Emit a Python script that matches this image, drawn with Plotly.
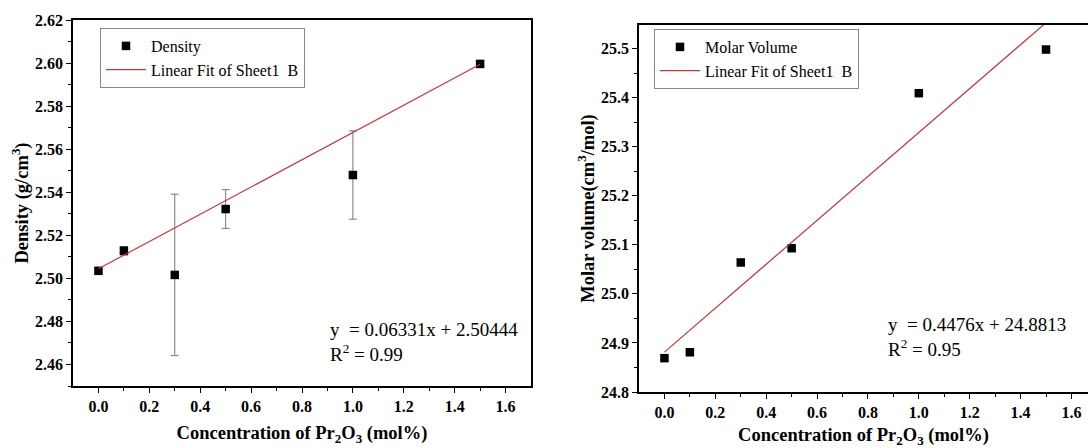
import plotly.graph_objects as go

# ---- data ----
conc = [0.0, 0.1, 0.3, 0.5, 1.0, 1.5]
density = [2.5035, 2.5128, 2.5016, 2.5322, 2.5480, 2.5996]
density_err = [0.0010, 0.0020, 0.0375, 0.0090, 0.0205, 0.0005]
molar_volume = [24.869, 24.881, 25.064, 25.093, 25.409, 25.498]
fit_x = [0.0, 1.5]
dens_slope, dens_icpt = 0.06331, 2.50444
mv_slope, mv_icpt = 0.4476, 24.8813
x_ticks = [0.0, 0.2, 0.4, 0.6, 0.8, 1.0, 1.2, 1.4, 1.6]
dens_ticks = [2.46, 2.48, 2.50, 2.52, 2.54, 2.56, 2.58, 2.60, 2.62]
mv_ticks = [24.8, 24.9, 25.0, 25.1, 25.2, 25.3, 25.4, 25.5]

dens_fit = [dens_slope * x + dens_icpt for x in fit_x]
mv_fit = [mv_slope * x + mv_icpt for x in fit_x]

FONT = "Liberation Serif"
RED = "#c0393b"

fig = go.Figure()
fig.add_trace(go.Scatter(
    x=conc, y=density, mode="markers", name="Density",
    marker=dict(symbol="square", size=8.5, color="black"),
    error_y=dict(type="data", array=density_err, visible=True, color="#777777", thickness=1, width=4),
    xaxis="x", yaxis="y", legend="legend"))
fig.add_trace(go.Scatter(
    x=fit_x, y=dens_fit, mode="lines", name="Linear Fit of Sheet1  B",
    line=dict(color=RED, width=1.2), xaxis="x", yaxis="y", legend="legend"))
fig.add_trace(go.Scatter(
    x=conc, y=molar_volume, mode="markers", name="Molar Volume",
    marker=dict(symbol="square", size=8.5, color="black"),
    xaxis="x2", yaxis="y2", legend="legend2"))
fig.add_trace(go.Scatter(
    x=fit_x, y=mv_fit, mode="lines", name="Linear Fit of Sheet1  B",
    line=dict(color=RED, width=1.2), xaxis="x2", yaxis="y2", legend="legend2"))

W, H = 1088, 448
def px(x): return x / W
def py(y): return 1 - y / H

def bold(vals, fmt):
    return [f"<b>{v:{fmt}}</b>" for v in vals]

TICKSIZE = 16
titlefont = dict(family=FONT, size=18.5, color="black")
common = dict(showgrid=False, zeroline=False, showline=True, linecolor="black", linewidth=1.5,
              ticks="outside", ticklen=5, tickwidth=1.2, tickcolor="black", automargin=False)
minor_x = dict(tickvals=[0.1, 0.3, 0.5, 0.7, 0.9, 1.1, 1.3, 1.5], ticks="outside", ticklen=3, tickcolor="black")

xtitle = "<b>Concentration of Pr<sub>2</sub>O<sub>3</sub> (mol%)</b>"

fig.update_layout(
    width=W, height=H, margin=dict(l=0, r=0, t=0, b=0, autoexpand=False),
    paper_bgcolor="white", plot_bgcolor="white",
    font=dict(family=FONT, size=TICKSIZE, color="black"),
    showlegend=True,
    xaxis=dict(domain=[px(73), px(531)], range=[-0.1, 1.7], tickvals=x_ticks, ticktext=bold(x_ticks, ".1f"),
               minor=minor_x, mirror=True, anchor="y",
               title=dict(text=xtitle, font=titlefont, standoff=12), **common),
    yaxis=dict(domain=[py(386), py(20)], range=[2.45, 2.62], tickvals=dens_ticks, ticktext=bold(dens_ticks, ".2f"),
               minor=dict(dtick=0.01, tick0=2.45, ticks="outside", ticklen=3, tickcolor="black"),
               mirror=True, anchor="x",
               title=dict(text="<b>Density (g/cm<sup>3</sup>)</b>", font=titlefont, standoff=2), **common),
    xaxis2=dict(domain=[px(639), 1.0], range=[-0.1, 1.665], tickvals=x_ticks, ticktext=bold(x_ticks, ".1f"),
                minor=minor_x, mirror=True, anchor="y2",
                title=dict(text=xtitle, font=titlefont, standoff=14), **common),
    yaxis2=dict(domain=[py(392), py(25)], range=[24.8, 25.548], tickvals=mv_ticks, ticktext=bold(mv_ticks, ".1f"),
                minor=dict(dtick=0.05, tick0=24.8, ticks="outside", ticklen=3, tickcolor="black"),
                anchor="x2",
                title=dict(text="<b>Molar volume(cm<sup>3</sup>/mol)</b>", font=titlefont, standoff=2), **common),
    legend=dict(x=px(100), y=py(28), xanchor="left", yanchor="top", bgcolor="white",
                bordercolor="#888888", borderwidth=1, font=dict(family=FONT, size=16, color="black"),
                tracegroupgap=0, itemwidth=40),
    legend2=dict(x=px(654), y=py(29), xanchor="left", yanchor="top", bgcolor="white",
                 bordercolor="#888888", borderwidth=1, font=dict(family=FONT, size=16, color="black"),
                 tracegroupgap=0, itemwidth=40),
)
for ax in ("xaxis", "yaxis", "xaxis2", "yaxis2"):
    fig.layout[ax].tickfont = dict(family=FONT, size=TICKSIZE, color="black")

annfont = dict(family=FONT, size=19, color="black")
fig.add_annotation(xref="paper", yref="paper", x=px(328), y=py(342), xanchor="left", yanchor="middle",
                   text=f"y  = {dens_slope}x + {dens_icpt}<br>R<sup>2</sup> = 0.99", align="left",
                   showarrow=False, font=annfont)
fig.add_annotation(xref="paper", yref="paper", x=px(886), y=py(337), xanchor="left", yanchor="middle",
                   text=f"y  = {mv_slope}x + {mv_icpt}<br>R<sup>2</sup> = 0.95", align="left",
                   showarrow=False, font=annfont)

fig.write_html("out.html")
